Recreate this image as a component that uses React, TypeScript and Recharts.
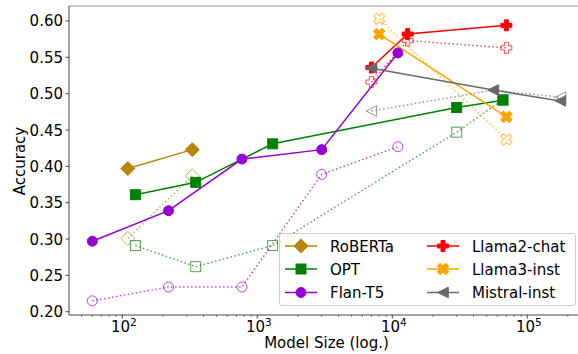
import React from 'react';
import { LineChart, Line, XAxis, YAxis, ReferenceLine } from 'recharts';

// ---------- data (model size in millions of parameters, accuracy) ----------
const robertaSizes = [110, 330];
const robertaSolid = [0.397, 0.423];
const robertaHollow = [0.301, 0.387];

const optSizes = [125, 350, 1300, 30000, 66000];
const optSolid = [0.361, 0.378, 0.431, 0.481, 0.491];
const optHollow = [0.291, 0.262, 0.291, 0.447, 0.492];

const flanSizes = [60, 220, 770, 3000, 11000];
const flanSolid = [0.297, 0.339, 0.410, 0.423, 0.556];
const flanHollow = [0.215, 0.234, 0.234, 0.389, 0.427];

const llama2Sizes = [7000, 13000, 70000];
const llama2Solid = [0.536, 0.582, 0.594];
const llama2Hollow = [0.516, 0.573, 0.563];

const llama3Sizes = [8000, 70000];
const llama3Solid = [0.582, 0.468];
const llama3Hollow = [0.603, 0.437];

const mistralSizes = [7000, 56000, 176000];
const mistralSolid = [0.535, 0.505, 0.490];
const mistralHollow = [0.476, 0.505, 0.495];

const yTicks = [0.2, 0.25, 0.3, 0.35, 0.4, 0.45, 0.5, 0.55, 0.6];
const majorXTicks = [100, 1000, 10000, 100000];
const xDomain: [number, number] = [40.3, 237500];
const yDomain: [number, number] = [0.1955, 0.6206];

const FONT = '"DejaVu Sans", sans-serif';

type Shape = 'D' | 's' | 'o' | 'P' | 'X' | '<';

const zip = (xs: number[], ys: number[]) => xs.map((x, i) => ({ x, y: ys[i] }));

const seriesDefs = [
  { name: 'RoBERTa', color: '#b8860b', shape: 'D' as Shape, sizes: robertaSizes, solid: robertaSolid, hollow: robertaHollow },
  { name: 'OPT', color: '#008000', shape: 's' as Shape, sizes: optSizes, solid: optSolid, hollow: optHollow },
  { name: 'Flan-T5', color: '#9400d3', shape: 'o' as Shape, sizes: flanSizes, solid: flanSolid, hollow: flanHollow },
  { name: 'Llama2-chat', color: '#ff0000', shape: 'P' as Shape, sizes: llama2Sizes, solid: llama2Solid, hollow: llama2Hollow },
  { name: 'Llama3-inst', color: '#ffa500', shape: 'X' as Shape, sizes: llama3Sizes, solid: llama3Solid, hollow: llama3Hollow },
  { name: 'Mistral-inst', color: '#696969', shape: '<' as Shape, sizes: mistralSizes, solid: mistralSolid, hollow: mistralHollow },
];

// minor + major ticks for the log axis
const allXTicks: number[] = [];
for (let d = 10; d <= 100000; d *= 10) {
  for (let m = 1; m <= 9; m++) {
    const v = d * m;
    if (v >= xDomain[0] && v <= xDomain[1]) allXTicks.push(v);
  }
}

function plusPath(cx: number, cy: number, r: number, w: number) {
  return `M${cx - w},${cy - r}H${cx + w}V${cy - w}H${cx + r}V${cy + w}H${cx + w}V${cy + r}H${cx - w}V${cy + w}H${cx - r}V${cy - w}H${cx - w}Z`;
}

function Marker({ cx, cy, shape, color, hollow }: { cx: number; cy: number; shape: Shape; color: string; hollow?: boolean }) {
  if (cx == null || cy == null || isNaN(cx) || isNaN(cy)) return null;
  const fill = hollow ? 'none' : color;
  const common = { fill, stroke: color, strokeWidth: 1, strokeOpacity: hollow ? 0.7 : 1 } as any;
  switch (shape) {
    case 'D': {
      const r = 7;
      return <polygon {...common} points={`${cx},${cy - r} ${cx + r},${cy} ${cx},${cy + r} ${cx - r},${cy}`} />;
    }
    case 's': {
      const h = 5;
      return <rect {...common} x={cx - h} y={cy - h} width={2 * h} height={2 * h} />;
    }
    case 'o':
      return <circle {...common} cx={cx} cy={cy} r={5} />;
    case 'P':
      return <path {...common} d={plusPath(cx, cy, 5.5, 2)} />;
    case 'X':
      return <path {...common} d={plusPath(cx, cy, 6, 2)} transform={`rotate(45 ${cx} ${cy})`} />;
    case '<': {
      const r = 5.3;
      return <polygon {...common} points={`${cx - r},${cy} ${cx + r},${cy - r} ${cx + r},${cy + r}`} />;
    }
  }
  return null;
}

const XTick = (props: any) => {
  const { x, y, payload } = props;
  const v = payload.value;
  const exp = Math.round(Math.log10(v));
  const isMajor = Math.abs(Math.pow(10, exp) - v) < 1e-6;
  return (
    <g>
      <line x1={x} x2={x} y1={y} y2={y + (isMajor ? 3.5 : 2)} stroke="#333" strokeWidth={isMajor ? 0.9 : 0.6} />
      {isMajor && majorXTicks.includes(v) ? (
        <text x={x + 1.5} y={332} textAnchor="middle" fontFamily={FONT} fontSize={15} fill="#000">
          <tspan>10</tspan>
          <tspan dy={-6} fontSize={10.5}>{exp}</tspan>
        </text>
      ) : null}
    </g>
  );
};

const YTick = (props: any) => {
  const { x, y, payload } = props;
  return (
    <g>
      <line x1={x} x2={x - 3.5} y1={y} y2={y} stroke="#333" strokeWidth={0.9} />
      <text x={x - 6} y={y + 5.5} textAnchor="end" fontFamily={FONT} fontSize={15} fill="#000">
        {Number(payload.value).toFixed(2)}
      </text>
    </g>
  );
};

function LegendBox() {
  const items = seriesDefs.map((s, i) => ({ ...s, col: Math.floor(i / 3), row: i % 3 }));
  const colX = [6, 148];
  const rowY = [13, 36, 59.5];
  return (
    <div
      style={{
        position: 'absolute',
        left: 279,
        top: 233,
        width: 297,
        height: 73,
        boxSizing: 'border-box',
        border: '1px solid #cccccc',
        borderRadius: 3,
        background: 'rgba(255,255,255,0.8)',
      }}
    >
      <svg width={297} height={73} style={{ position: 'absolute', left: -1, top: -1 }}>
        {items.map((it) => {
          const lx = colX[it.col];
          const ly = rowY[it.row];
          return (
            <g key={it.name}>
              <line x1={lx} x2={lx + 32} y1={ly} y2={ly} stroke={it.color} strokeWidth={1.5} />
              <Marker cx={lx + 16} cy={ly} shape={it.shape} color={it.color} />
              <text x={lx + 45} y={ly + 5.5} fontFamily={FONT} fontSize={15} fill="#000">
                {it.name}
              </text>
            </g>
          );
        })}
      </svg>
    </div>
  );
}

export default function App() {
  return (
    <div style={{ position: 'absolute', left: 0, top: 0, width: 578, height: 354, background: '#fff' }}>
      <LineChart width={578} height={354} margin={{ top: 6, right: 0, bottom: 0, left: 0 }}>
        <XAxis
          dataKey="x"
          type="number"
          scale="log"
          domain={xDomain}
          allowDataOverflow
          ticks={allXTicks}
          interval={0}
          tick={<XTick />}
          tickLine={false}
          tickSize={0}
          tickMargin={0}
          axisLine={{ stroke: '#333', strokeWidth: 0.9 }}
          height={39}
          label={{
            content: () => (
              <text x={326.5} y={348} textAnchor="middle" fontFamily={FONT} fontSize={15} fill="#000">
                Model Size (log.)
              </text>
            ),
          } as any}
        />
        <YAxis
          dataKey="y"
          type="number"
          domain={yDomain}
          allowDataOverflow
          ticks={yTicks}
          interval={0}
          tick={<YTick />}
          tickLine={false}
          tickSize={0}
          tickMargin={0}
          axisLine={{ stroke: '#333', strokeWidth: 0.9 }}
          width={69}
          label={{
            content: () => (
              <text
                x={0}
                y={0}
                transform="translate(24.5,161) rotate(-90)"
                textAnchor="middle"
                fontFamily={FONT}
                fontSize={15}
                fill="#000"
              >
                Accuracy
              </text>
            ),
          } as any}
        />
        <ReferenceLine y={yDomain[1]} stroke="#999" strokeWidth={1.2} ifOverflow="visible" />
        {seriesDefs.flatMap((s) => [
          <Line
            key={s.name + '-solid'}
            data={zip(s.sizes, s.solid)}
            dataKey="y"
            stroke={s.color}
            strokeWidth={1.5}
            type="linear"
            isAnimationActive={false}
            dot={(p: any) => <Marker key={`${s.name}-s-${p.index}`} cx={p.cx} cy={p.cy} shape={s.shape} color={s.color} />}
            activeDot={false}
          />,
          <Line
            key={s.name + '-hollow'}
            data={zip(s.sizes, s.hollow)}
            dataKey="y"
            stroke={s.color}
            strokeOpacity={0.7}
            strokeWidth={1.5}
            strokeDasharray="1.5 2.5"
            type="linear"
            isAnimationActive={false}
            dot={(p: any) => <Marker key={`${s.name}-h-${p.index}`} cx={p.cx} cy={p.cy} shape={s.shape} color={s.color} hollow />}
            activeDot={false}
            legendType="none"
          />,
        ])}
      </LineChart>
      <LegendBox />
    </div>
  );
}
